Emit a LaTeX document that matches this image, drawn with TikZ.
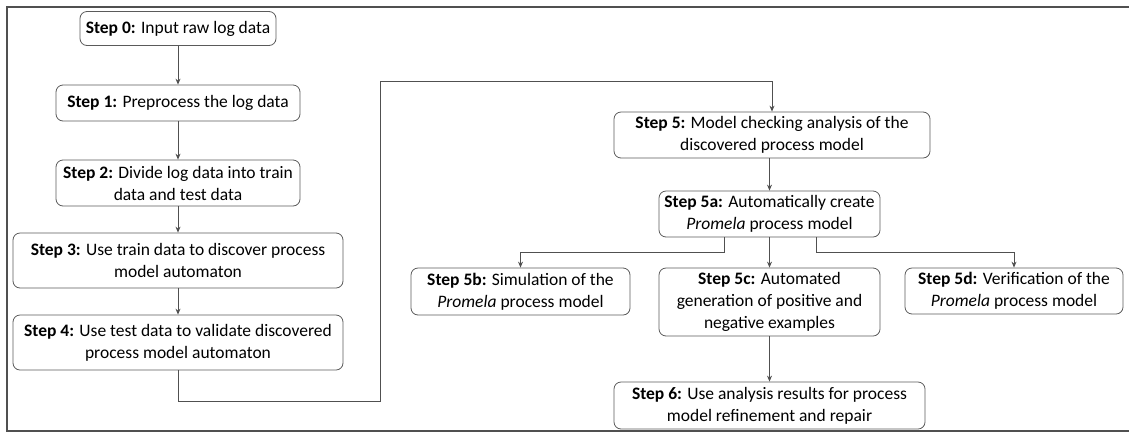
\documentclass[tikz,border=0pt]{standalone}
\usepackage{fontspec}
\setmainfont{Carlito}
\usetikzlibrary{arrows.meta}
\definecolor{boxgray}{HTML}{5A5A5A}
\definecolor{linegray}{HTML}{505050}
\tikzset{
  stepbox/.style={draw=boxgray, line width=0.8pt, rounded corners=7pt, align=center,
    inner sep=0pt, font=\fontsize{17.5}{22}\selectfont, text=black},
  arr/.style={draw=linegray, line width=0.8pt, -{Stealth[length=6pt,width=5pt]}},
  frame/.style={draw=linegray, line width=1.2pt}
}
\begin{document}
\begin{tikzpicture}[x=1pt,y=-1pt]
\useasboundingbox (0,0) rectangle (1129,432);
% frame (right side cropped)
\draw[frame] (1129,7) -- (7,7) -- (7,431) -- (1129,431);

\node[stepbox, minimum width=196, minimum height=34] (s0) at (178,28.5) {\textbf{Step 0:} Input raw log data};
\node[stepbox, minimum width=244, minimum height=36] (s1) at (178,103) {\textbf{Step 1:} Preprocess the log data};
\node[stepbox, minimum width=244, minimum height=46] (s2) at (178,183) {\textbf{Step 2:} Divide log data into train\\data and test data};
\node[stepbox, minimum width=330, minimum height=55] (s3) at (178,260.5) {\textbf{Step 3:} Use train data to discover process\\model automaton};
\node[stepbox, minimum width=330, minimum height=55] (s4) at (178,342.5) {\textbf{Step 4:} Use test data to validate discovered\\process model automaton};

\node[stepbox, minimum width=316, minimum height=46] (s5) at (772,135) {\textbf{Step 5:} Model checking analysis of the\\discovered process model};
\node[stepbox, minimum width=221, minimum height=46] (s5a) at (769.5,214) {\textbf{Step 5a:} Automatically create\\\textit{Promela} process model};
\node[stepbox, minimum width=219, minimum height=47] (s5b) at (520.5,291.5) {\textbf{Step 5b:} Simulation of the\\\textit{Promela} process model};
\node[stepbox, minimum width=221, minimum height=68] (s5c) at (769.5,302) {\textbf{Step 5c:} Automated\\generation of positive and\\negative examples};
\node[stepbox, minimum width=218, minimum height=46] (s5d) at (1014,291) {\textbf{Step 5d:} Verification of the\\\textit{Promela} process model};
\node[stepbox, minimum width=311, minimum height=47] (s6) at (769.5,405.5) {\textbf{Step 6:} Use analysis results for process\\model refinement and repair};

\coordinate (c1) at (380,401);
\coordinate (c2) at (380,81);
\coordinate (j1) at (724,252);
\coordinate (j2) at (816,252);

\draw[arr] (s0) -- (s1);
\draw[arr] (s1) -- (s2);
\draw[arr] (s2) -- (s3);
\draw[arr] (s3) -- (s4);
\draw[arr] (s4.south) |- (c1) -- (c2) -| (s5.north);
\draw[arr] (s5.south -| s5a.north) -- (s5a.north);
\draw[arr] (s5a.south -| j1) -- (j1) -| (s5b.north);
\draw[arr] (s5a.south) -- (s5c.north);
\draw[arr] (s5a.south -| j2) -- (j2) -| (s5d.north);
\draw[arr] (s5c.south) -- (s6.north);
\end{tikzpicture}
\end{document}
